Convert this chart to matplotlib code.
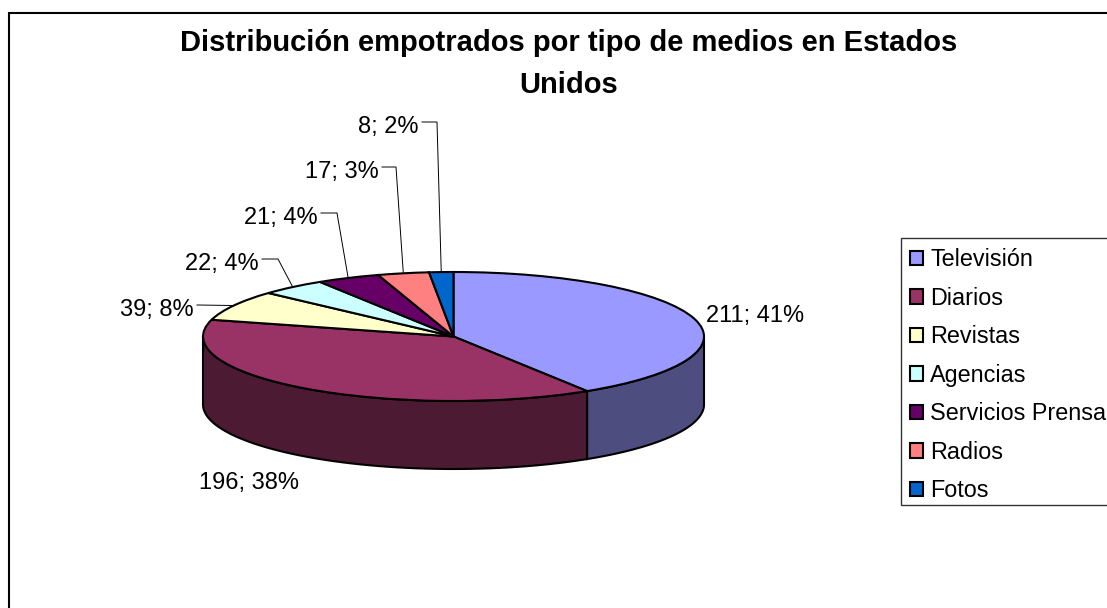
import matplotlib
matplotlib.use('Agg')
import matplotlib.pyplot as plt
import numpy as np
from matplotlib.patches import Patch, Rectangle

categories = ['Televisión', 'Diarios', 'Revistas', 'Agencias', 'Servicios Prensa', 'Radios', 'Fotos']
values = [211, 196, 39, 22, 21, 17, 8]
colors = ['#9999FF', '#993366', '#FFFFCC', '#CCFFFF', '#660066', '#FF8080', '#0066CC']
side_colors = ['#4D4D80', '#4D1A33', '#80801A', '#668080', '#330033', '#804040', '#003366']
title = 'Distribución empotrados por tipo de medios en Estados\nUnidos'

W, H = 1107, 608
cx, cy, rx, ry, depth = 453.5, 336.5, 250.5, 64.5, 68

plt.rcParams['font.family'] = ['Liberation Sans', 'DejaVu Sans']

fig = plt.figure(figsize=(W / 100, H / 100), dpi=100)
fig.patch.set_facecolor('white')

# pie axes: unit circle lands on the top ellipse of the disc
ax = fig.add_axes([0, 0, 1, 1])
ax.pie(values, colors=colors, startangle=90, counterclock=False, radius=1,
       wedgeprops=dict(edgecolor='black', linewidth=1.5))
ax.set_aspect('auto')
ax.set_xlim((0 - cx) / rx, (W - cx) / rx)
ax.set_ylim((cy - H) / ry, cy / ry)
ax.axis('off')

# side wall, only the front half of the disc shows
total = sum(values)
edges = np.cumsum([0] + values) / total * 360
d = depth / ry
for i in range(len(values)):
    a0, a1 = max(edges[i], 90), min(edges[i + 1], 270)
    if a1 <= a0:
        continue
    t = np.radians(np.linspace(a0, a1, 80))
    x = np.sin(t)
    y = np.cos(t)
    ax.fill(np.r_[x, x[::-1]], np.r_[y, y[::-1] - d], facecolor=side_colors[i],
            edgecolor='black', linewidth=1.5, zorder=0.5)

# overlay in pixel coordinates for text and leader lines
ov = fig.add_axes([0, 0, 1, 1], zorder=5)
ov.set_xlim(0, W)
ov.set_ylim(H, 0)
ov.axis('off')
ov.patch.set_alpha(0)

ov.plot([9, 9, W + 5], [H + 5, 13, 13], color='black', lw=1.5, solid_joinstyle='miter')
ov.text(569, 64, title, fontsize=21, fontweight='bold', ha='center', va='center', linespacing=1.62)

label_x = [706, 299, 194, 259, 318, 379, 419]
label_y = [314, 481, 308, 262, 216, 170, 125]
label_ha = ['left', 'right', 'right', 'right', 'right', 'right', 'right']
mids = (edges[:-1] + edges[1:]) / 2
for i, v in enumerate(values):
    pct = round(100 * v / total)
    ov.text(label_x[i], label_y[i] + 2, f'{v}; {pct}%', fontsize=17, ha=label_ha[i], va='center')

# leader lines for the small slices
elbow_x = [None, None, None, 278, 337, 396, 437]
for i in range(2, len(values)):
    t = np.radians(mids[i])
    px, py = cx + rx * np.sin(t), cy - ry * np.cos(t)
    ly = label_y[i] - 3
    if elbow_x[i] is None:
        xs, ys = [label_x[i] + 3, px], [ly, py]
    else:
        xs, ys = [label_x[i] + 3, elbow_x[i], px], [ly, ly, py]
    ov.plot(xs, ys, color='black', lw=0.7)

# legend box runs off the right edge, so it is drawn on its own
ov.add_patch(Rectangle((901, 238), W, 267, facecolor='white', edgecolor='#333333', linewidth=1.0))
handles = [Patch(facecolor=c, edgecolor='black', linewidth=1.5) for c in colors]
leg = ov.legend(handles, categories, loc='upper left', bbox_to_anchor=(901 / W, 1 - 239 / H),
                bbox_transform=fig.transFigure, borderaxespad=0, fontsize=16.8, frameon=False,
                handlelength=0.56, handleheight=0.56, handletextpad=0.3, borderpad=0.4,
                labelspacing=0.663)

fig.savefig('out.png', dpi=100)
